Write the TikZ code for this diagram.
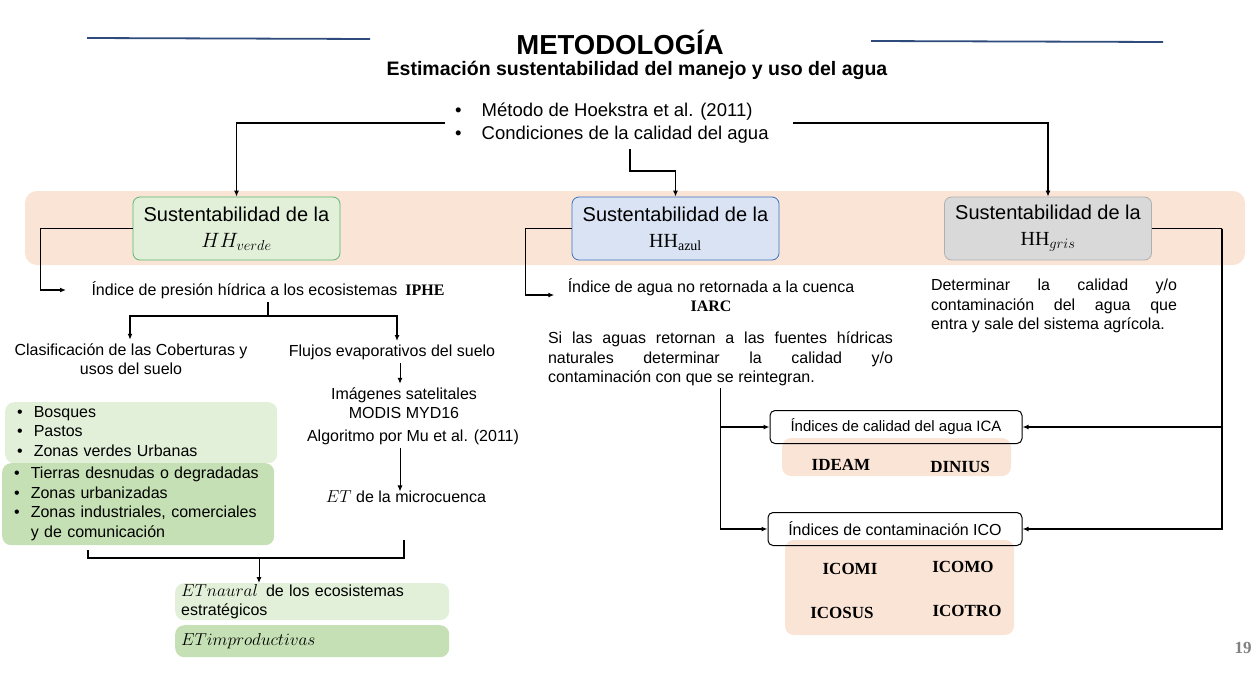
\documentclass[tikz,border=0pt]{standalone}
\usepackage{fontspec}
\setmainfont{Liberation Sans}
\newfontfamily\serifbf{Liberation Serif}
\usetikzlibrary{arrows.meta}
\definecolor{peach}{HTML}{FAE4D6}
\definecolor{lgreen}{HTML}{E2F0D9}
\definecolor{dgreen}{HTML}{C5E0B4}
\definecolor{lblue}{HTML}{DAE3F3}
\definecolor{lgray}{HTML}{D9D9D9}
\definecolor{bordegreen}{HTML}{5DB56E}
\definecolor{bordeblue}{HTML}{3C74C0}
\definecolor{bordegray}{HTML}{AFAFAF}
\definecolor{titleblue}{HTML}{2F4B7C}
\newcommand{\cod}[1]{{\serifbf\bfseries #1}}
\tikzset{
  arr/.style={-{Latex[length=6pt,width=5pt]}, line width=1.5pt},
  lin/.style={line width=1.5pt},
  hhbox/.style={draw, line width=0.8pt, rounded corners=7pt, minimum width=207pt,
    minimum height=63pt, align=center, font=\fontsize{20}{26}\selectfont},
  indbox/.style={draw, line width=1pt, rounded corners=5pt, minimum height=33pt, font=\fontsize{15}{19}\selectfont},
  fondo/.style={fill=peach, rounded corners=9pt},
  lista/.style={rounded corners=9pt, anchor=north west, inner ysep=0pt},
  parr/.style={align=justify, inner sep=2pt},
  sigla/.style={font=\fontsize{17}{20}\selectfont}
}
\begin{document}
\begin{tikzpicture}[x=1pt, y=-1pt, font=\fontsize{16}{19.5}\selectfont]
\useasboundingbox (0,0) rectangle (1260,672);
\hyphenpenalty=10000

% encabezado
\draw[titleblue, line width=1.8pt] (87,38) -- (370,39);
\draw[titleblue, line width=1.8pt] (871,41) -- (1163,42);
\node[font=\fontsize{27.5}{30}\selectfont\bfseries] (titulo) at (620,42) {METODOLOGÍA};
\node[font=\fontsize{19.5}{22}\selectfont\bfseries] (subtitulo) at (637,70) {Estimación sustentabilidad del manejo y uso del agua};

\node[anchor=west, inner xsep=10pt, inner ysep=3pt, font=\fontsize{18.5}{23}\selectfont] (metodo) at (445,123)
  {\begin{tabular}{@{}l@{\hspace{20pt}}l@{}}\textbullet & Método de Hoekstra et al. (2011)\\
   \textbullet & Condiciones de la calidad del agua\end{tabular}};

% franja
\fill[peach, rounded corners=12pt] (25,191) rectangle (1245,265);
\node[hhbox, fill=lgreen, draw=bordegreen] (verde) at (236.5,228.5) {Sustentabilidad de la\\$HH_{verde}$};
\node[hhbox, fill=lblue, draw=bordeblue] (azul) at (675.5,228.5) {Sustentabilidad de la\\{\serifbf HH\textsubscript{azul}}};
\node[hhbox, fill=lgray, draw=bordegray] (gris) at (1048,228.5) {Sustentabilidad de la\\{\serifbf HH}$_{gris}$};

\draw[arr] (metodo.west) -| (verde.north);
\draw[arr] ([xshift=14pt]metodo.east) -| (gris.north);
\draw[arr] ([xshift=18pt]metodo.south) -- ++(0,22) -| (azul.north);

% huella verde
\node[anchor=west] (iphe) at (88,290) {Índice de presión hídrica a los ecosistemas\enspace\cod{IPHE}};
\draw[arr] (verde.west) -- ++(-92,0) |- ([xshift=-22pt]iphe.west);
\draw[lin] (iphe.south) -- ++(0,14) coordinate (rama);
\node[align=center] (clasif) at (131,359) {Clasificación de las Coberturas y\\usos del suelo};
\node (flujos) at (392,352) {Flujos evaporativos del suelo};
\draw[arr] (rama) -| ([xshift=-1pt]clasif.north);
\draw[arr] (rama) -| ([xshift=5pt]flujos.north);

\node[align=center] (imagenes) at (404,403) {Imágenes satelitales\\MODIS MYD16};
\node (algoritmo) at (413,437) {Algoritmo por Mu et al. (2011)};
\node (etmicro) at (406,497) {$ET$ de la microcuenca};
\draw[arr, line width=1pt] ([xshift=8pt]flujos.south) -- ([xshift=-4pt]imagenes.north);
\draw[arr, line width=1pt] ([xshift=-13pt]algoritmo.south) -- ([xshift=-6pt,yshift=-4pt]etmicro.north);

\node[lista, fill=lgreen, minimum width=272pt, minimum height=61pt, text width=248pt, inner xsep=12pt] (cob1) at (5,402)
  {\noindent\begin{tabular}{@{}l@{\hspace{11pt}}l@{}}\textbullet & Bosques\\ \textbullet & Pastos\\
   \textbullet & Zonas verdes Urbanas\end{tabular}};
\node[lista, fill=dgreen, minimum width=272pt, minimum height=82pt, text width=248pt, inner xsep=12pt] (cob2) at (2,463)
  {\noindent\begin{tabular}{@{}l@{\hspace{11pt}}l@{}}\textbullet & Tierras desnudas o degradadas\\
   \textbullet & Zonas urbanizadas\\ \textbullet & Zonas industriales, comerciales\\ & y de comunicación\end{tabular}};

\coordinate (junta) at (259,558);
\coordinate (finet) at (404,540);
\draw[lin] ([xshift=-50pt,yshift=-5pt]cob2.south) |- (junta) -| (finet);

\node[lista, fill=lgreen, minimum width=274pt, minimum height=37pt, text width=262pt, inner xsep=6pt, align=left] (etnat) at (175,583)
  {$ETnaural$\enspace de los ecosistemas\\estratégicos};
\node[lista, fill=dgreen, minimum width=274pt, minimum height=32pt, text width=262pt, inner xsep=6pt, align=left] (etimp) at (175,625)
  {$ETimproductivas$};
\draw[arr, line width=1pt] (junta) -- (junta |- etnat.north);

% huella azul
\node[align=center] (iarc) at (711,295) {Índice de agua no retornada a la cuenca\\\cod{IARC}};
\draw[arr] (azul.west) -- ++(-46,0) |- ([xshift=-10pt]iarc.west);
\node[parr, text width=345pt] (retorno) at (720.5,359)
  {Si las aguas retornan a las fuentes hídricas\linebreak naturales determinar la calidad y/o\linebreak contaminación con que se reintegran.};

% huella gris
\node[parr, text width=246pt] (determinar) at (1054,306)
  {Determinar la calidad y/o\linebreak contaminación del agua que\linebreak entra y sale del sistema agrícola.};

% indices
\node[fondo, minimum width=229pt, minimum height=38pt] (fondoica) at (896.5,457) {};
\node[fondo, minimum width=229pt, minimum height=95pt] (fondoico) at (899.5,587.5) {};
\node[indbox, minimum width=252pt] (ica) at (896,427) {Índices de calidad del agua ICA};
\node[indbox, minimum width=254pt, font=\fontsize{16}{19}\selectfont] (ico) at (895,529) {Índices de contaminación ICO\hspace{12pt}};
\node[sigla] (ideam) at (841,465) {\cod{IDEAM}};
\node[sigla] (dinius) at (960,467) {\cod{DINIUS}};
\node[sigla] (icomi) at (850,569) {\cod{ICOMI}};
\node[sigla] (icomo) at (963,567) {\cod{ICOMO}};
\node[sigla] (icosus) at (842,613) {\cod{ICOSUS}};
\node[sigla] (icotro) at (967,611) {\cod{ICOTRO}};

\draw[arr] (retorno.south) |- (ica.west);
\draw[arr] (retorno.south) |- (ico.west);
\draw[lin] (gris.east) -- ++(70,0) coordinate (bajada);
\draw[arr] (bajada) |- (ica.east);
\draw[arr] (bajada) |- (ico.east);

\node[text=gray, font=\fontsize{17}{20}\selectfont] (pagina) at (1243,648) {\cod{19}};
\end{tikzpicture}
\end{document}
